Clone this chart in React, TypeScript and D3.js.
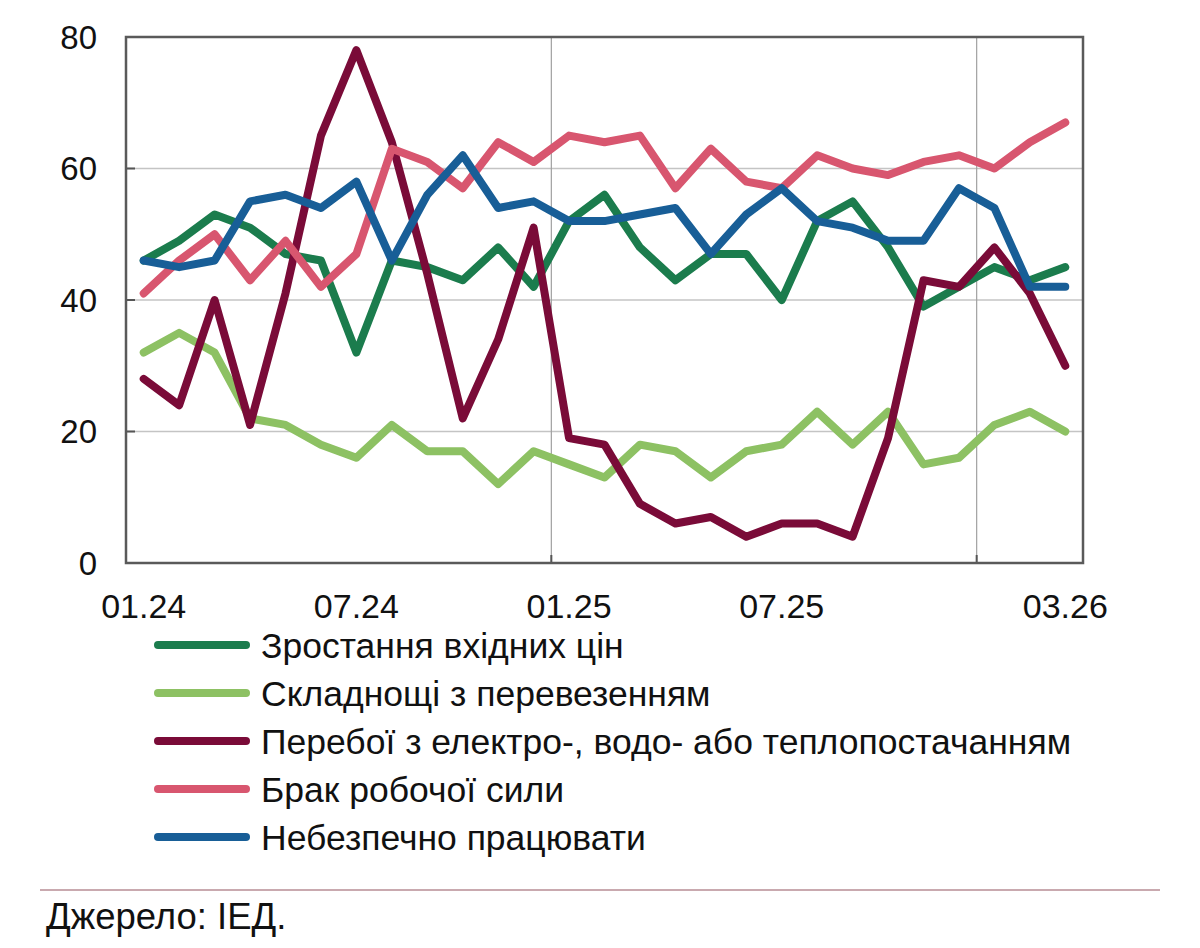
import * as d3 from "d3";
import { useEffect, useRef } from "react";

const months = [
    "01.24", "02.24", "03.24", "04.24", "05.24", "06.24", "07.24", "08.24", "09.24",
    "10.24", "11.24", "12.24", "01.25", "02.25", "03.25", "04.25", "05.25", "06.25",
    "07.25", "08.25", "09.25", "10.25", "11.25", "12.25", "01.26", "02.26", "03.26",
];
const xTickLabels = ["01.24", "07.24", "01.25", "07.25", "03.26"];
const yTicks = [0, 20, 40, 60, 80];
// year boundaries: a thin line drawn before these months
const yearStarts = ["01.25", "01.26"];

const inputPrices = [46, 49, 53, 51, 47, 46, 32, 46, 45, 43, 48, 42, 52, 56, 48, 43, 47, 47, 40, 52, 55, 48, 39, 42, 45, 43, 45];
const transport = [32, 35, 32, 22, 21, 18, 16, 21, 17, 17, 12, 17, 15, 13, 18, 17, 13, 17, 18, 23, 18, 23, 15, 16, 21, 23, 20];
const outages = [28, 24, 40, 21, 41, 65, 78, 64, 44, 22, 34, 51, 19, 18, 9, 6, 7, 4, 6, 6, 4, 19, 43, 42, 48, 41, 30];
const labourShortage = [41, 46, 50, 43, 49, 42, 47, 63, 61, 57, 64, 61, 65, 64, 65, 57, 63, 58, 57, 62, 60, 59, 61, 62, 60, 64, 67];
const unsafe = [46, 45, 46, 55, 56, 54, 58, 46, 56, 62, 54, 55, 52, 52, 53, 54, 47, 53, 57, 52, 51, 49, 49, 57, 54, 42, 42];

const seriesNames = [
    "Зростання вхідних цін",
    "Складнощі з перевезенням",
    "Перебої з електро-, водо- або теплопостачанням",
    "Брак робочої сили",
    "Небезпечно працювати",
];
const seriesColors = ["#1b7c4d", "#8dc163", "#7a0b38", "#d8566f", "#185e97"];
const seriesValues = [inputPrices, transport, outages, labourShortage, unsafe];

const width = 1200;
const height = 948;
const marginTop = 37;
const marginRight = 117;
const marginBottom = 385;
const marginLeft = 126;
const font = "'Liberation Sans', Arial, sans-serif";

const App = () => {
    const ref = useRef<SVGSVGElement | null>(null);

    useEffect(() => {
        const svg = d3.select(ref.current);
        svg.selectAll("*").remove();

        const x = d3.scaleBand()
            .domain(months)
            .range([marginLeft, width - marginRight]);
        const y = d3.scaleLinear()
            .domain([0, 80])
            .range([height - marginBottom, marginTop]);
        const cx = (m: string) => (x(m) ?? 0) + x.bandwidth() / 2;

        // horizontal grid
        svg.append("g")
            .selectAll("line")
            .data(yTicks.filter(t => t > 0 && t < 80))
            .join("line")
            .attr("x1", marginLeft)
            .attr("x2", width - marginRight)
            .attr("y1", d => y(d))
            .attr("y2", d => y(d))
            .attr("stroke", "#c4c4c4")
            .attr("stroke-width", 1.5);

        // year separators
        svg.append("g")
            .selectAll("line")
            .data(yearStarts)
            .join("line")
            .attr("x1", d => x(d) ?? 0)
            .attr("x2", d => x(d) ?? 0)
            .attr("y1", marginTop)
            .attr("y2", height - marginBottom)
            .attr("stroke", "#a0a0a0")
            .attr("stroke-width", 1.2);

        // left ticks (inside)
        svg.append("g")
            .selectAll("line")
            .data(yTicks)
            .join("line")
            .attr("x1", marginLeft)
            .attr("x2", marginLeft + 9)
            .attr("y1", d => y(d))
            .attr("y2", d => y(d))
            .attr("stroke", "#555")
            .attr("stroke-width", 2);

        // bottom ticks at year separators
        svg.append("g")
            .selectAll("line")
            .data(yearStarts)
            .join("line")
            .attr("x1", d => x(d) ?? 0)
            .attr("x2", d => x(d) ?? 0)
            .attr("y1", height - marginBottom - 8)
            .attr("y2", height - marginBottom)
            .attr("stroke", "#555")
            .attr("stroke-width", 2);

        // frame
        svg.append("rect")
            .attr("x", marginLeft)
            .attr("y", marginTop)
            .attr("width", width - marginRight - marginLeft)
            .attr("height", height - marginBottom - marginTop)
            .attr("fill", "none")
            .attr("stroke", "#5a5a5a")
            .attr("stroke-width", 2.5);

        // y labels
        svg.append("g")
            .selectAll("text")
            .data(yTicks)
            .join("text")
            .attr("x", 97)
            .attr("y", d => y(d))
            .attr("dy", "0.36em")
            .attr("text-anchor", "end")
            .style("font-family", font)
            .style("font-size", "33px")
            .attr("fill", "#111")
            .text(d => d);

        // x labels
        svg.append("g")
            .selectAll("text")
            .data(xTickLabels)
            .join("text")
            .attr("x", d => cx(d))
            .attr("y", 618)
            .attr("text-anchor", "middle")
            .style("font-family", font)
            .style("font-size", "34px")
            .attr("fill", "#111")
            .text(d => d);

        const line = d3.line<number>()
            .x((_, i) => cx(months[i]))
            .y(d => y(d));

        svg.append("g")
            .selectAll("path")
            .data(seriesValues)
            .join("path")
            .attr("d", d => line(d))
            .attr("fill", "none")
            .attr("stroke", (_, i) => seriesColors[i])
            .attr("stroke-width", 8)
            .attr("stroke-linejoin", "round")
            .attr("stroke-linecap", "round");

        // legend
        const legend = svg.append("g")
            .selectAll("g")
            .data(seriesNames)
            .join("g")
            .attr("transform", (_, i) => `translate(0,${645 + i * 48})`);
        legend.append("line")
            .attr("x1", 158)
            .attr("x2", 246)
            .attr("stroke", (_, i) => seriesColors[i])
            .attr("stroke-width", 8)
            .attr("stroke-linecap", "round");
        legend.append("text")
            .attr("x", 261)
            .attr("dy", "0.36em")
            .style("font-family", font)
            .style("font-size", "35.5px")
            .attr("fill", "#111")
            .text(d => d);

        // source
        svg.append("line")
            .attr("x1", 40)
            .attr("x2", 1160)
            .attr("y1", 890)
            .attr("y2", 890)
            .attr("stroke", "#c9a9af")
            .attr("stroke-width", 2);
        svg.append("text")
            .attr("x", 46)
            .attr("y", 929)
            .style("font-family", font)
            .style("font-size", "36.5px")
            .attr("fill", "#111")
            .text("Джерело: ІЕД.");
    }, []);

    return (
        <svg
            ref={ref}
            width={width}
            height={height}
            style={{ position: "absolute", left: 0, top: 0, background: "#fff" }}
        />
    );
};

export default App;
